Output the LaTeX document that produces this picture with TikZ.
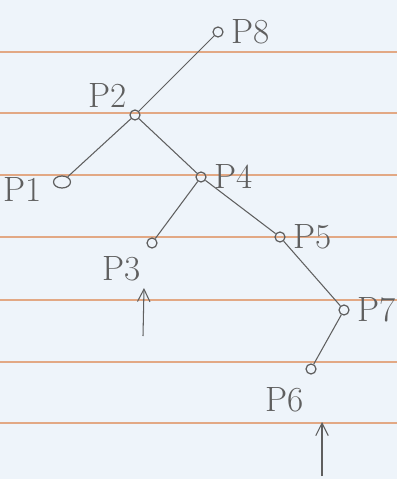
\documentclass[tikz,border=0pt]{standalone}
\usepackage{tikz}
\usetikzlibrary{arrows.meta,backgrounds,shapes.geometric}
\definecolor{paper}{RGB}{238,244,250}
\definecolor{ruled}{RGB}{226,168,132}
\definecolor{pencil}{RGB}{95,95,95}
\tikzset{
  pt/.style={circle,draw=pencil,line width=0.7pt,inner sep=0pt,minimum size=0.2cm},
  edg/.style={draw=pencil,line width=0.6pt},
  arr/.style={-{Straight Barb[length=2.5mm,width=2.5mm]},draw=pencil,line width=0.6pt},
  lbl/.style={font=\fontsize{20}{24}\selectfont,text=pencil},
  every label/.style={lbl},
}

\begin{document}
\begin{tikzpicture}[x=0.02cm,y=-0.02cm]
  % paper
  \fill[paper] (0,0) rectangle (397,479);
  \useasboundingbox (0,0) rectangle (397,479);
  \foreach \y in {52,113,175,237,300,362,423}
    \draw[draw=ruled,line width=0.9pt] (0,\y) -- (397,\y);
  % tree nodes
  \node[pt,label={[label distance=1pt]right:P8}] (p8) at (218,32) {};
  \node[pt,label={[label distance=-2pt]150:P2}] (p2) at (135,115) {};
  \node[pt,ellipse,minimum width=0.34cm,minimum height=0.24cm,label={[label distance=3pt,yshift=-0.15cm]left:P1}] (p1) at (62,182) {};
  \node[pt,label={[label distance=1pt]right:P4}] (p4) at (201,177) {};
  \node[pt,label={[label distance=2pt]235:P3}] (p3) at (152,243) {};
  \node[pt,label={[label distance=1pt]right:P5}] (p5) at (280,237) {};
  \node[pt,label={[label distance=1pt]right:P7}] (p7) at (344,310) {};
  \node[pt,label={[label distance=4pt]265:P6}] (p6) at (311,369) {};
  % edges
  \draw[edg] (p2) -- (p8);
  \draw[edg] (p2) -- (p1);
  \draw[edg] (p2) -- (p4);
  \draw[edg] (p4) -- (p3);
  \draw[edg] (p4) -- (p5);
  \draw[edg] (p5) -- (p7);
  \draw[edg] (p7) -- (p6);
  % pointer arrows
  \coordinate (t3) at (143,336);
  \coordinate (h3) at (144,288);
  \coordinate (t6) at (322,476);
  \coordinate (h6) at (322,422);
  \draw[arr] (t3) -- (h3);
  \draw[arr] (t6) -- (h6);
\end{tikzpicture}
\end{document}
